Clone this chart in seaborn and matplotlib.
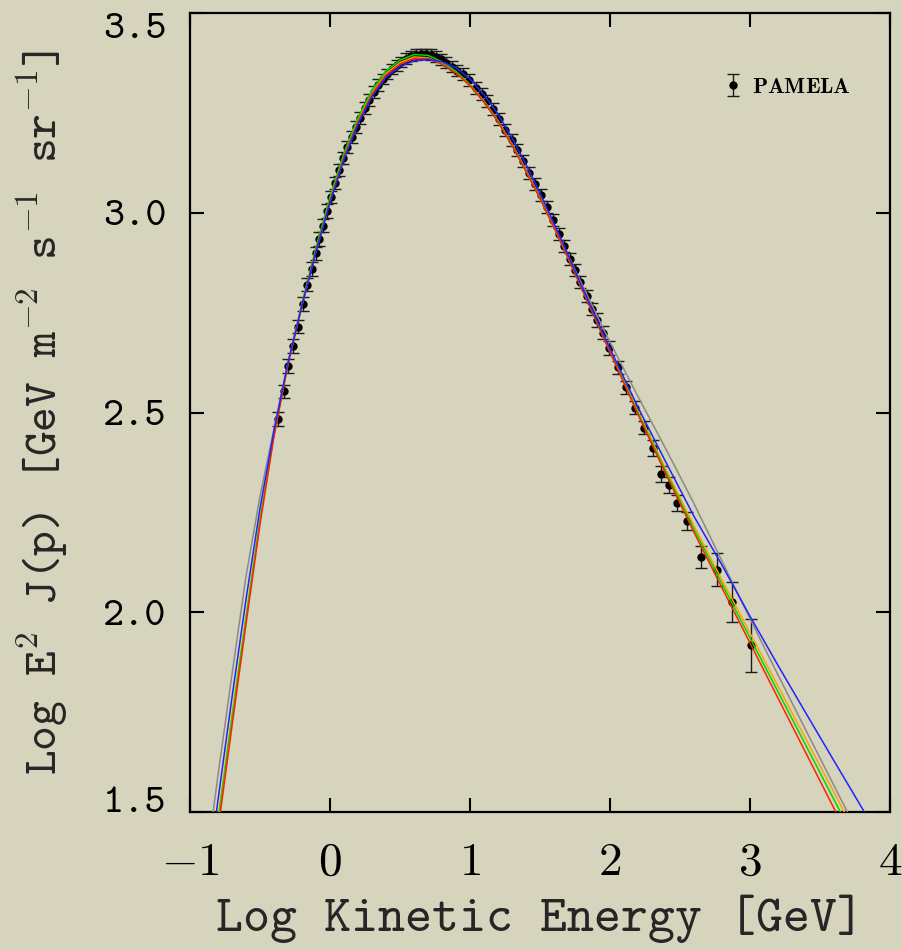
import matplotlib
matplotlib.use("Agg")
import matplotlib.pyplot as plt
import pandas as pd
import seaborn as sns

# ---- PAMELA proton measurements: log10(T / GeV), log10(E^2 J), 1-sigma error
log_ke = [-0.369, -0.329, -0.298, -0.262, -0.226, -0.195, -0.162, -0.131, -0.102, -0.076, -0.052, -0.024,
          0.005, 0.035, 0.065, 0.095, 0.125, 0.155, 0.185, 0.215, 0.248, 0.280, 0.312, 0.345,
          0.378, 0.410, 0.443, 0.476, 0.510, 0.545, 0.580, 0.615, 0.650, 0.686, 0.722, 0.758,
          0.795, 0.832, 0.870, 0.910,
          0.952, 0.995, 1.043, 1.083, 1.124, 1.167, 1.210, 1.250, 1.298, 1.338, 1.381, 1.421,
          1.464, 1.507, 1.548, 1.590, 1.633, 1.674, 1.714, 1.750, 1.786, 1.833, 1.874,
          1.910, 1.948, 1.995, 2.055, 2.114, 2.179, 2.240,
          2.305, 2.362, 2.424, 2.481, 2.553,
          2.650, 2.766, 2.874, 3.005]
log_flux = [2.484, 2.553, 2.616, 2.666, 2.715, 2.772, 2.820, 2.859, 2.898, 2.935, 2.968, 3.005,
            3.040, 3.074, 3.106, 3.136, 3.164, 3.190, 3.215, 3.238, 3.262, 3.283, 3.302, 3.320,
            3.335, 3.348, 3.360, 3.369, 3.378, 3.386, 3.392, 3.396, 3.398, 3.398, 3.396, 3.391,
            3.384, 3.376, 3.366, 3.356,
            3.347, 3.332, 3.313, 3.297, 3.280, 3.259, 3.234, 3.208, 3.181, 3.157, 3.129, 3.100,
            3.071, 3.045, 3.014, 2.981, 2.948, 2.916, 2.885, 2.856, 2.827, 2.791, 2.759,
            2.731, 2.700, 2.661, 2.613, 2.563, 2.512, 2.462,
            2.412, 2.347, 2.319, 2.273, 2.228,
            2.138, 2.107, 2.026, 1.917]
flux_err = [0.017, 0.017, 0.017, 0.017, 0.017, 0.017, 0.017, 0.017, 0.017, 0.017, 0.017, 0.017,
            0.015, 0.015, 0.015, 0.015, 0.015, 0.015, 0.015, 0.015, 0.015, 0.015, 0.015, 0.015,
            0.013, 0.013, 0.013, 0.013, 0.013, 0.013, 0.013, 0.013, 0.013, 0.013, 0.013, 0.013,
            0.013, 0.013, 0.013, 0.013,
            0.015, 0.015, 0.015, 0.015, 0.015, 0.015, 0.015, 0.015, 0.015, 0.015, 0.015, 0.015,
            0.015, 0.015, 0.015, 0.015, 0.015, 0.015, 0.015, 0.015, 0.015, 0.015, 0.015,
            0.017, 0.017, 0.017, 0.017, 0.017, 0.017, 0.017,
            0.020, 0.020, 0.020, 0.020, 0.022,
            0.028, 0.042, 0.050, 0.067]

# ---- model spectra evaluated on a common energy grid
model_grid = [-0.9, -0.8, -0.7, -0.6, -0.5, -0.4, -0.3, -0.2, -0.1, 0.0,
              0.1, 0.2, 0.3, 0.4, 0.5, 0.6, 0.7, 0.8, 0.9, 1.0,
              1.1, 1.2, 1.3, 1.4, 1.5, 1.6, 1.7, 1.8, 1.9, 2.0,
              2.2, 2.4, 2.6, 2.8, 3.0, 3.2, 3.4, 3.6, 3.8, 4.0]
model_gray = [1.330, 1.592, 1.845, 2.090, 2.290, 2.460, 2.625, 2.772, 2.905, 3.030,
              3.140, 3.228, 3.297, 3.345, 3.372, 3.386, 3.386, 3.375, 3.353, 3.321,
              3.280, 3.231, 3.173, 3.108, 3.039, 2.968, 2.895, 2.821, 2.748, 2.676,
              2.540, 2.408, 2.272, 2.128, 1.984, 1.843, 1.704, 1.566, 1.428, 1.290]
model_blue = [1.265, 1.530, 1.787, 2.032, 2.260, 2.455, 2.625, 2.768, 2.902, 3.025,
              3.134, 3.222, 3.291, 3.339, 3.366, 3.380, 3.384, 3.378, 3.363, 3.335,
              3.295, 3.247, 3.187, 3.121, 3.049, 2.973, 2.895, 2.815, 2.737, 2.660,
              2.513, 2.375, 2.240, 2.118, 1.990, 1.867, 1.747, 1.628, 1.510, 1.392]
model_green = [1.210, 1.475, 1.735, 1.985, 2.230, 2.445, 2.623, 2.773, 2.913, 3.040,
               3.150, 3.238, 3.307, 3.355, 3.382, 3.396, 3.394, 3.378, 3.354, 3.320,
               3.277, 3.228, 3.169, 3.104, 3.036, 2.963, 2.887, 2.809, 2.730, 2.653,
               2.499, 2.351, 2.208, 2.071, 1.936, 1.801, 1.666, 1.531, 1.396, 1.261]
model_orange = [1.220, 1.485, 1.745, 1.990, 2.232, 2.446, 2.623, 2.770, 2.907, 3.033,
                3.144, 3.232, 3.301, 3.349, 3.376, 3.390, 3.388, 3.372, 3.350, 3.318,
                3.277, 3.228, 3.169, 3.104, 3.037, 2.964, 2.889, 2.811, 2.733, 2.655,
                2.503, 2.357, 2.216, 2.081, 1.948, 1.815, 1.682, 1.549, 1.416, 1.283]
model_red = [1.190, 1.455, 1.715, 1.970, 2.220, 2.440, 2.620, 2.768, 2.905, 3.030,
             3.140, 3.228, 3.297, 3.345, 3.372, 3.386, 3.386, 3.372, 3.350, 3.318,
             3.277, 3.228, 3.169, 3.104, 3.036, 2.963, 2.887, 2.809, 2.730, 2.651,
             2.495, 2.345, 2.200, 2.061, 1.923, 1.785, 1.647, 1.509, 1.371, 1.233]

model_names = ["gray", "orange", "green", "red", "blue"]
model_colors = {"gray": "#8a8a8a", "blue": "#2222ff", "green": "#00d800",
                "orange": "#ffa200", "red": "#ff2200"}

x_ticks = [-1, 0, 1, 2, 3, 4]
x_tick_labels = [r"$-1$", r"$0$", r"$1$", r"$2$", r"$3$", r"$4$"]
y_ticks = [1.5, 2.0, 2.5, 3.0, 3.5]
y_tick_labels = ["1.5", "2.0", "2.5", "3.0", "3.5"]

model_series = {"gray": model_gray, "blue": model_blue, "green": model_green,
                "orange": model_orange, "red": model_red}
models = pd.DataFrame({
    "log_ke": model_grid * len(model_names),
    "log_e2j": [v for m in model_names for v in model_series[m]],
    "model": [m for m in model_names for _ in model_grid],
})

# ---- styling
sns.set_theme(style="ticks")
paper = "#d6d4bd"
tt = ["cmtt10", "DejaVu Sans Mono"]
plt.rcParams.update({
    "mathtext.fontset": "cm",
    "axes.edgecolor": "black",
    "axes.linewidth": 1.6,
    "text.color": "black",
    "xtick.color": "black",
    "ytick.color": "black",
})

fig = plt.figure(figsize=(9.03, 9.5), dpi=100, facecolor=paper)
ax = fig.add_axes([190 / 903, 138 / 950, 700 / 903, 799 / 950])
ax.set_facecolor(paper)

eb = ax.errorbar(log_ke, log_flux, yerr=flux_err, fmt="o", ms=5, color="black",
                 ecolor="#1c1c1c", elinewidth=1.0, capsize=4, capthick=1.0, zorder=2)

sns.lineplot(data=models, x="log_ke", y="log_e2j", hue="model", hue_order=model_names,
             palette=model_colors, linewidth=1.1, legend=False, sort=False,
             estimator=None, ax=ax, zorder=3)

ax.set_xlim(-1, 4)
ax.set_ylim(1.5, 3.5)
ax.set_xticks(x_ticks)
ax.set_xticklabels(x_tick_labels)
ax.set_yticks(y_ticks)
ax.set_yticklabels(y_tick_labels, fontfamily=tt)
ax.tick_params(direction="in", length=10, width=1.5, top=True, right=True)
ax.tick_params(axis="x", labelsize=34, pad=20)
ax.tick_params(axis="y", labelsize=29, pad=17)
ax.minorticks_off()

# keep the end labels of the y axis inside the frame
yt = ax.yaxis.get_major_ticks()
yt[0].label1.set_verticalalignment("baseline")
yt[-1].label1.set_verticalalignment("top")

ax.set_xlabel("Log Kinetic Energy [GeV]", fontsize=37, fontfamily=tt)
ax.set_ylabel(r"Log E$^{2}$ J(p) [GeV m$^{-2}$ s$^{-1}$ sr$^{-1}$]",
              fontsize=34, fontfamily=tt, math_fontfamily="cm")
ax.xaxis.set_label_coords(0.5, -0.104)
ax.yaxis.set_label_coords(-0.171, 0.5)

ax.legend([eb], [r"$\mathbf{PAMELA}$"], loc="center right", bbox_to_anchor=(0.944, 0.908),
          frameon=False, fontsize=16, handlelength=0.7, handletextpad=0.5,
          borderpad=0, borderaxespad=0)

fig.savefig("out.png", dpi=100, facecolor=paper)
